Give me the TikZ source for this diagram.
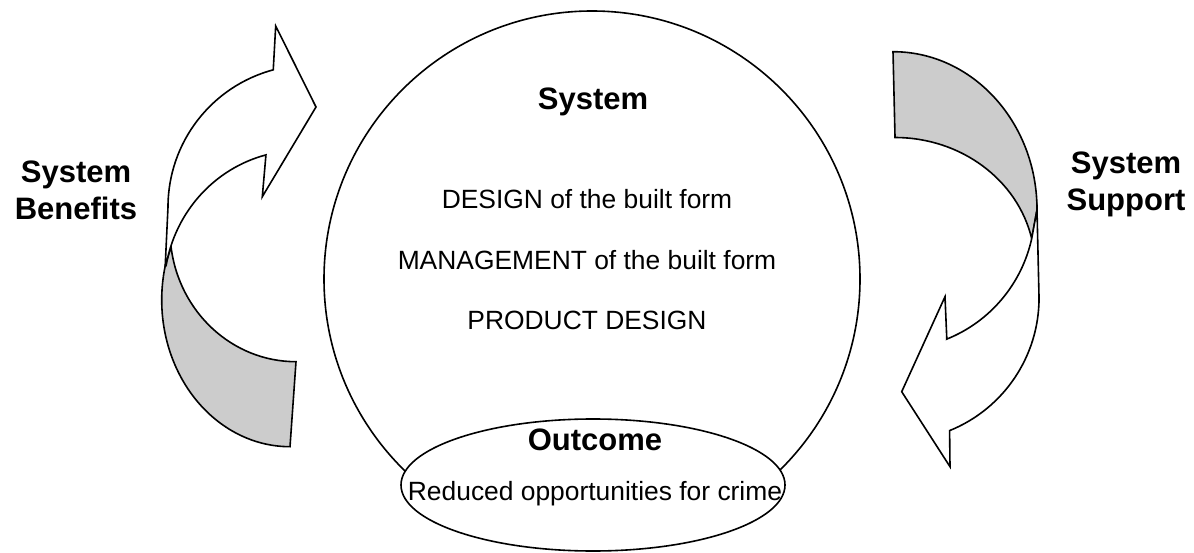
\documentclass[tikz,border=0pt]{standalone}
\usepackage{fontspec}
\setmainfont{Liberation Sans}
\usetikzlibrary{shapes.geometric}
\definecolor{shade}{gray}{0.8}
\tikzset{
  lbl/.style={font=\fontsize{26.4}{30}\selectfont, anchor=base, inner sep=0pt},
  ttl/.style={font=\bfseries\fontsize{31}{36}\selectfont, anchor=base, inner sep=0pt},
  band/.style={draw, line width=1.6pt, line join=miter},
  shaded/.style={band, fill=shade},
  front/.style={band, fill=white},
}
\begin{document}
\begin{tikzpicture}[x=1pt,y=-1pt]
\useasboundingbox (0,0) rectangle (1194,553);
% big circle and outcome ellipse
\node[circle, draw, line width=1.6pt, minimum size=536pt, inner sep=0pt] (sys) at (592,279) {};
\node[ellipse, draw, fill=white, line width=1.6pt, minimum width=384pt, minimum height=132pt, inner sep=0pt] (out) at (593,485) {};
% texts
\node[ttl] (systitle) at (593,110) {System};
\node[lbl] (design) at (587,209) {DESIGN of the built form};
\node[lbl] (manage) at (587,270) {MANAGEMENT of the built form};
\node[lbl] (product) at (587,330) {PRODUCT DESIGN};
\node[ttl] (outtitle) at (595,450) {Outcome};
\node[lbl] (reduced) at (595,500) {Reduced opportunities for crime};
\node[ttl] (lsys) at (76,183) {System};
\node[ttl] (lben) at (76,220) {Benefits};
\node[ttl] (rsys) at (1126,174) {System};
\node[ttl] (rsup) at (1126,211) {Support};
% left curved arrow: shaded back band
\path[shaded] (165.2,266) arc[start angle=193.4, end angle=90, x radius=128.3, y radius=146.7]
  -- (296,361.7) arc[start angle=90, end angle=172.7, x radius=126, y radius=131.7]
  -- cycle;
% left curved arrow: front band with head
\path[front] (273.25,69.8) -- (275.7,26) -- (316,107) -- (262.3,196.7) -- (265.95,154.9)
  arc[start angle=255.5, end angle=190, x radius=136, y radius=139.5]
  -- (165.2,266) -- (168,207)
  arc[start angle=180, end angle=255, radius=142]
  -- cycle;
% right curved arrow: shaded back band
\path[shaded] (893,51.7) arc[start angle=270, end angle=360, x radius=144, y radius=158]
  -- (1031.7,238.6) arc[start angle=-12.5, end angle=-90, x radius=140, y radius=129]
  -- cycle;
% right curved arrow: front band with head
\path[front] (946.8,339) -- (945,296.7) -- (901.7,391.7) -- (950,466.7) -- (949.6,430.6)
  arc[start angle=68, end angle=0, radius=143]
  -- (1037,209.7) -- (1031.7,238.6)
  arc[start angle=12.5, end angle=68.3, x radius=140, y radius=141]
  -- cycle;
\end{tikzpicture}
\end{document}
